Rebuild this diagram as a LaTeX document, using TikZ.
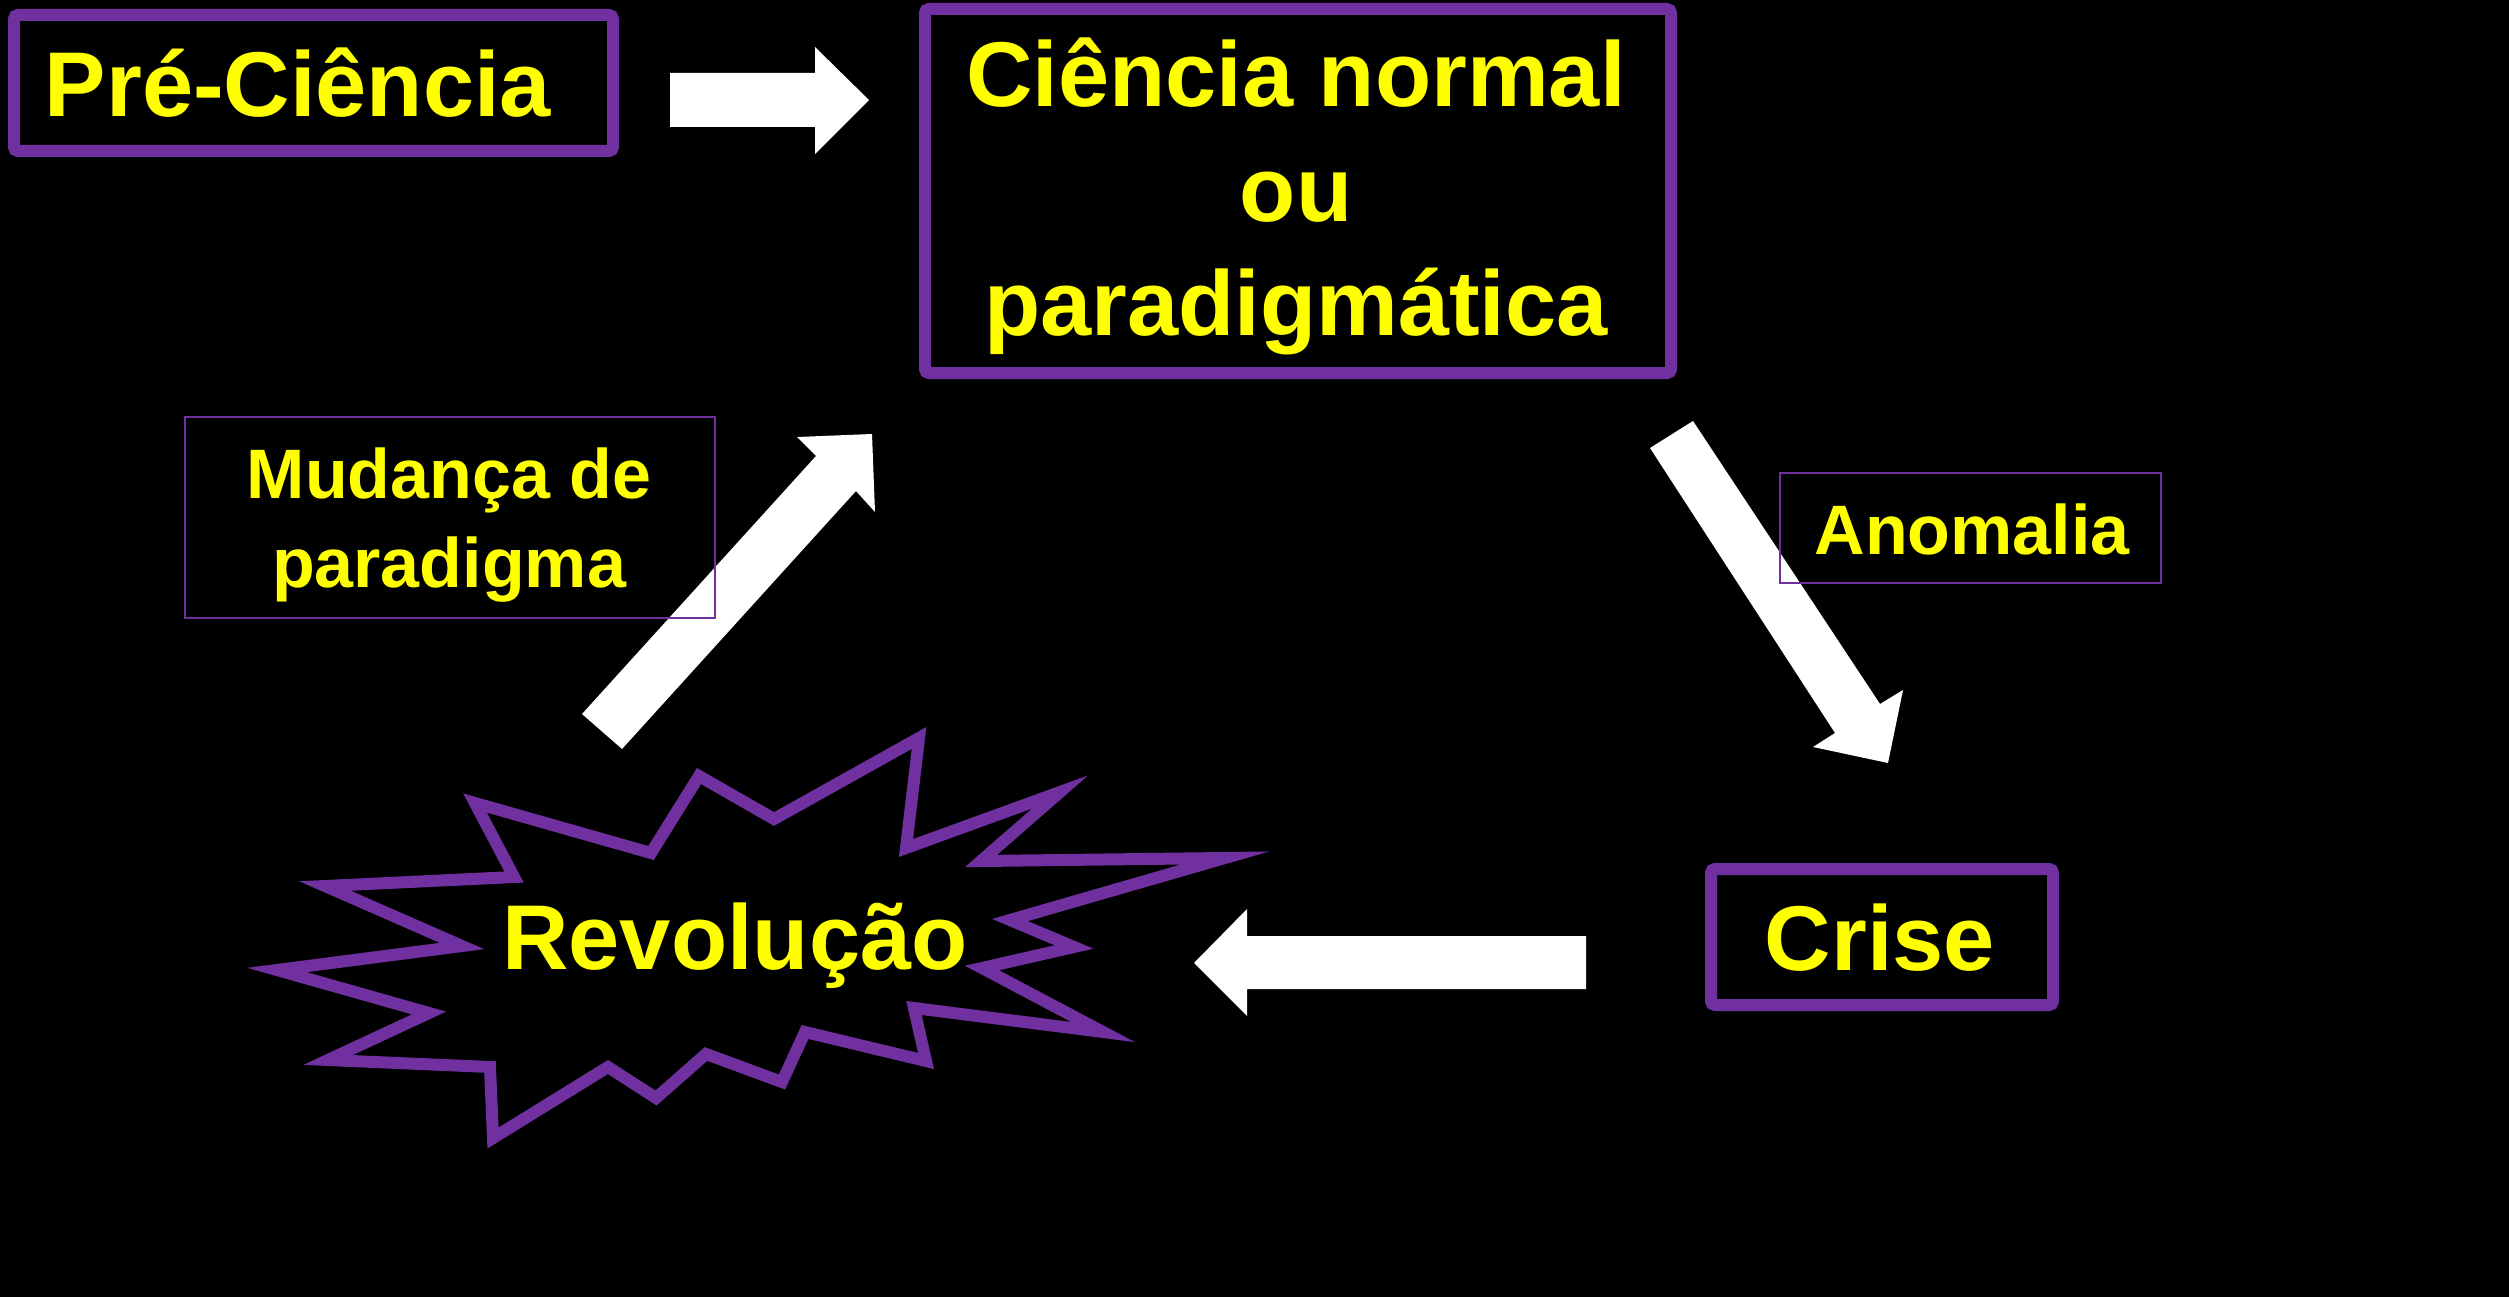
\documentclass[tikz,border=0pt]{standalone}
\usepackage{fontspec}
\setmainfont{Liberation Sans}
\definecolor{kpurple}{HTML}{7030A0}
\definecolor{kyellow}{HTML}{FFFF00}
\tikzset{
  bigbox/.style={draw=kpurple, line width=12pt, rounded corners=4pt, inner sep=0pt, fill=none},
  labelbox/.style={draw=kpurple, line width=2pt, inner sep=0pt, fill=none},
  bigtext/.style={text=kyellow, font=\bfseries\fontsize{92}{110}\selectfont, anchor=base, inner sep=0pt},
  smalltext/.style={text=kyellow, font=\bfseries\fontsize{70}{84}\selectfont, anchor=base, inner sep=0pt},
  blockarrow/.style={fill=white, draw=none},
  burst/.style={draw=kpurple, line width=12pt, line join=miter, miter limit=20, fill=black},
}
\begin{document}
\begin{tikzpicture}[x=1pt,y=-1pt]
\fill[black] (0,0) rectangle (2509,1297);
\useasboundingbox (0,0) rectangle (2509,1297);

% block arrows
\fill[blockarrow] (670,73) -- (815,73) -- (815,47) -- (869,100) -- (815,154) -- (815,127) -- (670,127) -- cycle;
\fill[blockarrow] (1650,448) -- (1835,733) -- (1813,747) -- (1888,763) -- (1903,690) -- (1880,704) -- (1693,421) -- cycle;
\fill[blockarrow] (1586,936) -- (1247,936) -- (1247,909) -- (1194,963) -- (1247,1016) -- (1247,989) -- (1586,989) -- cycle;
\fill[blockarrow] (582,714) -- (816,456) -- (797,437) -- (872,434) -- (875,512) -- (856,491) -- (622,749) -- cycle;

% starburst
\draw[burst] (475,803) -- (651,853) -- (699,776) -- (774,819) -- (919,738) -- (906,848)
  -- (1060,792) -- (981,861) -- (1225,858) -- (1010,920) -- (1074,947) -- (982,968)
  -- (1103,1032) -- (914,1008) -- (926,1061) -- (805,1032) -- (782,1082) -- (706,1054)
  -- (656,1098) -- (608,1067) -- (493,1138) -- (490,1067) -- (328,1060) -- (429,1013)
  -- (277,970) -- (462,946) -- (325,886) -- (514,877) -- cycle;

% boxes
\node[bigbox, minimum width=599pt, minimum height=136pt] (prebox) at (313.5,83) {};
\node[bigbox, minimum width=746pt, minimum height=364pt] (normbox) at (1298,191) {};
\node[bigbox, minimum width=342pt, minimum height=136pt] (crisebox) at (1882,937) {};
\node[labelbox, minimum width=530pt, minimum height=201pt] (mudbox) at (450,517.5) {};
\node[labelbox, minimum width=381pt, minimum height=110pt] (anombox) at (1970,528) {};

% texts
\node[bigtext] (pre) at (298,117) {Pré-Ciência};
\node[bigtext] (norm1) at (1296,107) {Ciência normal};
\node[bigtext] (norm2) at (1296,222) {ou};
\node[bigtext] (norm3) at (1296,336) {paradigmática};
\node[bigtext] (crise) at (1880,970) {Crise};
\node[bigtext] (rev) at (735,969) {Revolução};
\node[smalltext] (mud1) at (449,498) {Mudança de};
\node[smalltext] (mud2) at (449,587) {paradigma};
\node[smalltext] (anom) at (1972,554) {Anomalia};
\end{tikzpicture}
\end{document}
